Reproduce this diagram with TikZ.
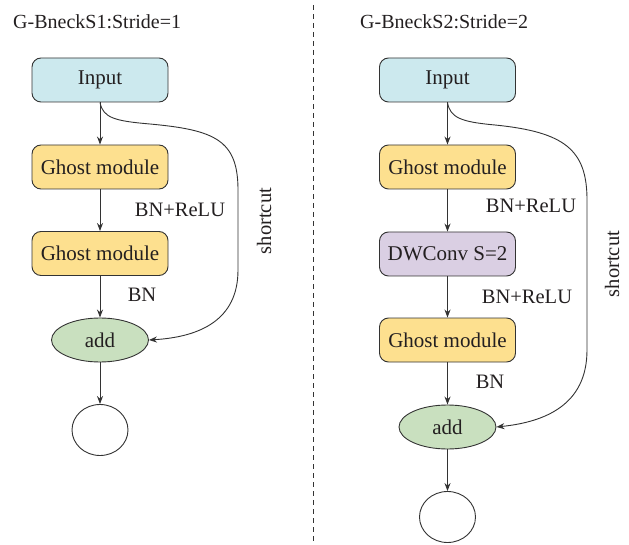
\documentclass[tikz,border=0pt]{standalone}
\usepackage{fontspec}
\setmainfont{Liberation Serif}
\usetikzlibrary{shapes.geometric,arrows.meta}
\definecolor{txt}{HTML}{231F20}
\definecolor{edge}{HTML}{333333}
\definecolor{incol}{HTML}{CCE9EE}
\definecolor{ghcol}{HTML}{FDE08F}
\definecolor{addcol}{HTML}{C9E0BF}
\definecolor{dwcol}{HTML}{DACFE3}
\tikzset{
  box/.style={draw=edge, line width=0.9pt, rounded corners=9pt, minimum width=136pt, minimum height=44pt, inner sep=0pt, text=txt, font=\fontsize{21}{24}\selectfont},
  inbox/.style={box, fill=incol},
  ghbox/.style={box, fill=ghcol},
  dwbox/.style={box, fill=dwcol},
  addnode/.style={ellipse, draw=edge, line width=0.9pt, fill=addcol, minimum width=97pt, minimum height=44pt, inner sep=0pt, text=txt, font=\fontsize{21}{24}\selectfont},
  outnode/.style={ellipse, draw=edge, line width=0.9pt, fill=white, minimum width=56pt, minimum height=51pt, inner sep=0pt},
  lbl/.style={text=txt, font=\fontsize{20.5}{24}\selectfont, inner sep=0pt},
  ttl/.style={text=txt, font=\fontsize{20}{24}\selectfont, inner sep=0pt},
  arr/.style={draw=edge, line width=0.9pt, -{Stealth[length=8pt,width=6pt]}},
}
\begin{document}
\begin{tikzpicture}[x=1pt,y=-1pt]
\useasboundingbox (0,0) rectangle (629,545);
% titles
\node[ttl, anchor=west] (t1) at (13,22) {G-BneckS1:Stride=1};
\node[ttl, anchor=west] (t2) at (360,22) {G-BneckS2:Stride=2};
% divider
\coordinate (dtop) at (313,5);
\coordinate (dbot) at (313,545);
\draw[edge, line width=0.9pt, dash pattern=on 5pt off 4pt] (dtop) -- (dbot);
% left column
\node[inbox] (in1) at (100,80) {Input};
\node[ghbox] (g11) at (100,167) {Ghost module};
\node[ghbox] (g12) at (100,253.5) {Ghost module};
\node[addnode] (add1) at (100,340) {add};
\node[outnode] (out1) at (100,430) {};
\draw[arr] (in1) -- (g11);
\draw[arr] (g11) -- (g12);
\draw[arr] (g12) -- (add1);
\draw[arr] (add1) -- (out1);
\node[lbl] (l11) at (180,210) {BN+ReLU};
\node[lbl] (l12) at (142,295) {BN};
\draw[arr] (in1.south) .. controls (103,118) and (115,121) .. (150,124)
  .. controls (215,130) and (238,140) .. (238,190) -- (238,270)
  .. controls (238,320) and (200,337) .. (add1.east);
\node[lbl, rotate=90] (s1) at (264,221) {shortcut};
% right column
\node[inbox] (in2) at (447.5,80) {Input};
\node[ghbox] (g21) at (447.5,167) {Ghost module};
\node[dwbox] (dw2) at (447.5,254) {DWConv S=2};
\node[ghbox] (g22) at (447.5,340) {Ghost module};
\node[addnode] (add2) at (447.5,427) {add};
\node[outnode] (out2) at (447.5,517) {};
\draw[arr] (in2) -- (g21);
\draw[arr] (g21) -- (dw2);
\draw[arr] (dw2) -- (g22);
\draw[arr] (g22) -- (add2);
\draw[arr] (add2) -- (out2);
\node[lbl] (l21) at (531,206) {BN+ReLU};
\node[lbl] (l22) at (527,297) {BN+ReLU};
\node[lbl] (l23) at (490,382) {BN};
\draw[arr] (in2.south) .. controls (450,118) and (462,122) .. (495,125)
  .. controls (565,132) and (587,150) .. (587,200) -- (587,350)
  .. controls (587,405) and (545,422) .. (add2.east);
\node[lbl, rotate=90] (s2) at (612,264) {shortcut};
\end{tikzpicture}
\end{document}
